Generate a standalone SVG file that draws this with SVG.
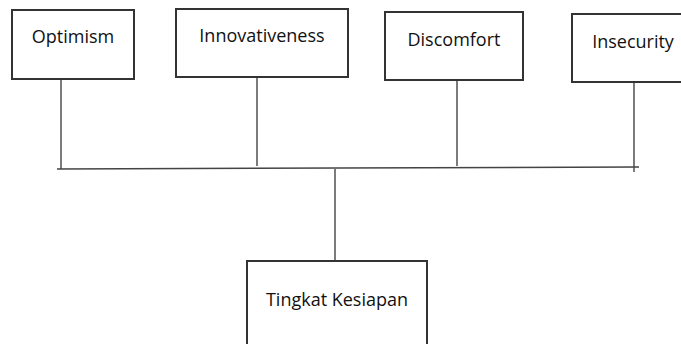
<svg xmlns="http://www.w3.org/2000/svg" width="681" height="344" viewBox="0 0 681 344">
<style>
.box{fill:#fff;stroke:#333;stroke-width:2}
.lbl{font-family:"Open Sans","Liberation Sans",sans-serif;font-size:18px;fill:#111;text-anchor:middle}
.ln{stroke:#444;stroke-width:1.4;fill:none}
</style>
<rect width="681" height="344" fill="#fff"/>
<g id="connectors">
<line class="ln" x1="61" y1="79" x2="61" y2="169"/>
<line class="ln" x1="257" y1="77" x2="257" y2="166"/>
<line class="ln" x1="457" y1="80" x2="457" y2="166"/>
<line class="ln" x1="634" y1="82" x2="634" y2="172"/>
<line class="ln" x1="57" y1="169" x2="639" y2="167"/>
<line class="ln" x1="335" y1="169" x2="335" y2="261"/>
</g>
<g id="optimism"><rect class="box" x="12" y="10" width="122" height="69"/><text class="lbl" x="73" y="43">Optimism</text></g>
<g id="innovativeness"><rect class="box" x="176" y="9" width="172" height="68"/><text class="lbl" x="262" y="42">Innovativeness</text></g>
<g id="discomfort"><rect class="box" x="385" y="12" width="138" height="68"/><text class="lbl" x="454" y="46">Discomfort</text></g>
<g id="insecurity"><rect class="box" x="572" y="14" width="112" height="68"/><text class="lbl" x="633" y="48">Insecurity</text></g>
<g id="tingkat"><rect class="box" x="247" y="261" width="180" height="90"/><text class="lbl" x="337" y="306">Tingkat Kesiapan</text></g>
</svg>
